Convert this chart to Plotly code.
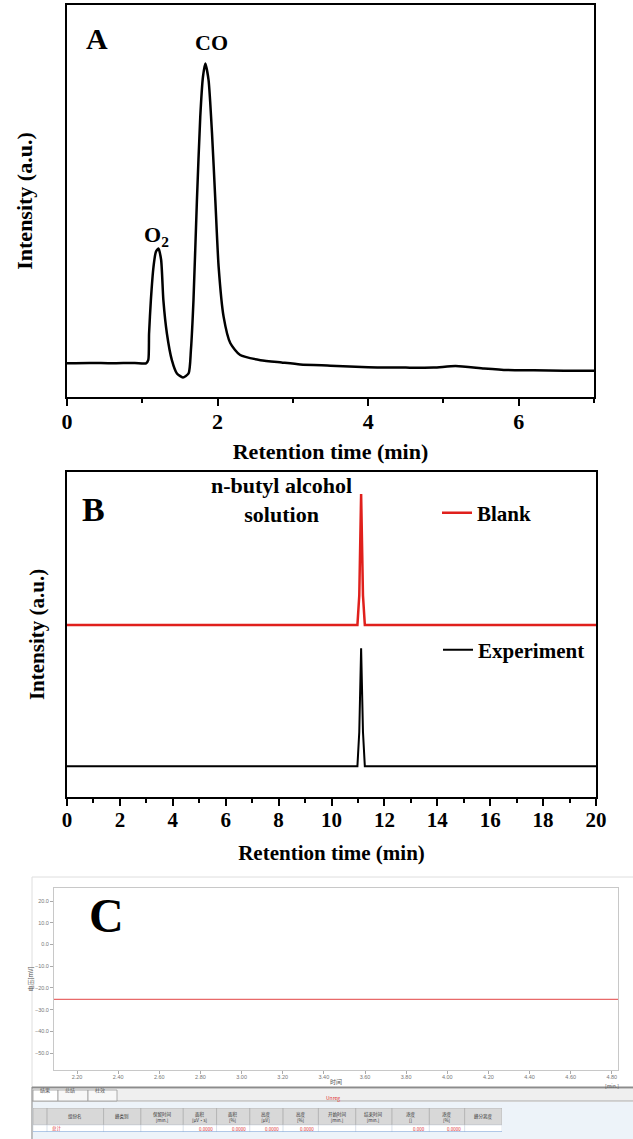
import plotly.graph_objects as go
from itertools import accumulate

W, H = 633, 1139
SERIF = "Liberation Serif, Times New Roman, serif"
CJK = "Noto Sans CJK SC, sans-serif"


def px(x):
    return x / W


def py(y):
    return 1 - y / H


# ---------------- Panel A data ----------------
a_time = [0.00, 0.30, 0.60, 0.90, 1.05, 1.08, 1.09, 1.114, 1.149, 1.18, 1.215,
          1.25, 1.28, 1.327, 1.393, 1.46, 1.54, 1.615, 1.646, 1.68, 1.726,
          1.77, 1.806, 1.837, 1.88, 1.926, 1.97, 2.014, 2.08, 2.17, 2.30,
          2.57, 2.85, 3.10, 3.50, 4.00, 4.50, 4.87, 5.16, 5.54, 5.85, 6.20,
          6.60, 7.00]
a_intensity = [8.6, 8.7, 8.6, 8.7, 8.6, 9.5, 16.2, 24.7, 33.2, 37.0, 37.9,
               35.0, 24.7, 16.2, 9.4, 6.0, 5.0, 6.0, 12.0, 24.7, 50.3,
               71.5, 81.7, 85.1, 80.9, 67.3, 50.3, 33.2, 20.5, 13.7, 10.7,
               9.4, 8.8, 8.3, 8.0, 7.6, 7.5, 7.5, 7.9, 7.3, 6.9, 6.8,
               6.7, 6.7]
a_ticks = [0, 2, 4, 6]

# ---------------- Panel B data ----------------
b_time = [0, 5, 10, 10.98, 11.05, 11.12, 11.19, 11.26, 15, 20]
b_blank = [52.9, 52.9, 52.9, 52.9, 62.0, 93.2, 62.0, 52.9, 52.9, 52.9]
b_experiment = [9.5, 9.5, 9.5, 9.5, 20.0, 45.8, 20.0, 9.5, 9.5, 9.5]
b_ticks = list(range(0, 21, 2))

# ---------------- Panel C data ----------------
c_time = [2.088, 4.83]
c_voltage = [-25.3, -25.3]
c_xticks = [2.2, 2.4, 2.6, 2.8, 3.0, 3.2, 3.4, 3.6, 3.8, 4.0, 4.2, 4.4, 4.6, 4.8]
c_yticks = [20, 10, 0, -10, -20, -30, -40, -50]

table_header = ["", "组份名", "峰类别", "保留时间<br>[min.]", "面积<br>[μV·s]",
                "面积<br>[%]", "高度<br>[μV]", "高度<br>[%]", "开始时间<br>[min.]",
                "结束时间<br>[min.]", "浓度<br>[]", "浓度<br>[%]", "峰分离度"]
table_row = ["", "总计", "", "", "0.0000", "0.0000", "0.0000", "0.0000",
             "", "", "0.000", "0.0000", ""]
table_colwidth = [14, 56, 37, 42, 33, 33, 33, 35, 37, 36, 37, 35, 37]
table_align = ["center", "left", "center", "center", "right", "right", "right",
               "right", "center", "center", "right", "right", "center"]
tab_labels = ["结果", "总结", "柱效"]
tab_widths = [25, 30, 29]

fig = go.Figure()

fig.add_trace(go.Scatter(x=a_time, y=a_intensity, mode="lines",
                         line=dict(color="black", width=2.5, shape="spline",
                                   smoothing=0.6),
                         xaxis="x", yaxis="y", showlegend=False))

fig.add_trace(go.Scatter(x=b_time, y=b_blank, mode="lines", name="Blank",
                         line=dict(color="#e0201c", width=2.5),
                         xaxis="x2", yaxis="y2", legend="legend"))
fig.add_trace(go.Scatter(x=b_time, y=b_experiment, mode="lines", name="Experiment",
                         line=dict(color="black", width=2),
                         xaxis="x2", yaxis="y2", legend="legend2"))

fig.add_trace(go.Scatter(x=c_time, y=c_voltage, mode="lines",
                         line=dict(color="#e86a6a", width=1.2),
                         xaxis="x3", yaxis="y3", showlegend=False))

bold_tick = dict(family=SERIF, size=22, color="black", weight="bold")
title_font = dict(family=SERIF, size=22, color="black", weight="bold")
minor = dict(dtick=1, tick0=0, ticks="outside", ticklen=4, tickwidth=2,
             tickcolor="black", showgrid=False)
c_tickfont = dict(family="Liberation Sans, Arial", size=5.5, color="#777777")

# table geometry (columns in table units, rows: header 7..24, data row 0..7)
edges = [0] + list(accumulate(table_colwidth))
total_w = edges[-1]
ROW_TOP, HEAD_TOP = 7, 24

fig.update_layout(
    width=W, height=H, autosize=False,
    margin=dict(l=0, r=0, t=0, b=0, autoexpand=False),
    paper_bgcolor="white", plot_bgcolor="white",
    xaxis=dict(domain=[px(67), px(594)], range=[0, 7], anchor="y", automargin=False,
               showline=True, linecolor="black", linewidth=2, mirror=True,
               ticks="outside", ticklen=7, tickwidth=2, tickcolor="black",
               tickvals=a_ticks, tickfont=bold_tick, showgrid=False,
               zeroline=False, minor=minor, ticklabelstandoff=-3,
               title=dict(text="Retention time (min)", font=title_font, standoff=10)),
    yaxis=dict(domain=[py(397), py(5)], range=[0, 100], anchor="x", automargin=False,
               showline=True, linecolor="black", linewidth=2, mirror=True,
               ticks="", showticklabels=False, showgrid=False, zeroline=False,
               title=dict(text="Intensity (a.u.)", font=title_font, standoff=26)),
    xaxis2=dict(domain=[px(67), px(596)], range=[0, 20], anchor="y2", automargin=False,
                showline=True, linecolor="black", linewidth=2, mirror=True,
                ticks="outside", ticklen=7, tickwidth=2, tickcolor="black",
                tickvals=b_ticks, tickfont=dict(bold_tick, size=21), showgrid=False,
                zeroline=False, minor=minor, ticklabelstandoff=-4,
                title=dict(text="Retention time (min)",
                           font=dict(title_font, size=21), standoff=14)),
    yaxis2=dict(domain=[py(797), py(472)], range=[0, 100], anchor="x2", automargin=False,
                showline=True, linecolor="black", linewidth=2, mirror=True,
                ticks="", showticklabels=False, showgrid=False, zeroline=False,
                title=dict(text="Intensity (a.u.)", font=dict(title_font, size=21),
                           standoff=15)),
    xaxis3=dict(domain=[px(54), px(618)], range=[2.088, 4.83], anchor="y3",
                automargin=False,
                showline=True, linecolor="#c8c8c8", linewidth=1, mirror=True,
                ticks="outside", ticklen=3, tickwidth=1, tickcolor="#aaaaaa",
                tickvals=c_xticks, tickformat=".2f", showgrid=False, zeroline=False,
                tickfont=c_tickfont, ticklabelstandoff=-2,
                title=dict(text="时间", font=dict(family=CJK, size=6, color="#555555"),
                           standoff=1)),
    yaxis3=dict(domain=[py(1070), py(888)], range=[-57.8, 26], anchor="x3",
                automargin=False,
                showline=True, linecolor="#c8c8c8", linewidth=1, mirror=True,
                ticks="outside", ticklen=3, tickwidth=1, tickcolor="#aaaaaa",
                tickvals=c_yticks, tickformat=".1f", showgrid=False, zeroline=False,
                tickfont=c_tickfont,
                title=dict(text="电压[mV]", font=dict(family=CJK, size=6, color="#555555"),
                           standoff=0)),
    # hidden axes that lay out the result table under panel C
    xaxis4=dict(domain=[px(33), px(502)], range=[0, total_w], anchor="y4",
                visible=False, fixedrange=True),
    yaxis4=dict(domain=[py(1132), py(1108)], range=[0, HEAD_TOP], anchor="x4",
                visible=False, fixedrange=True),
    legend=dict(x=px(437), y=py(513), xanchor="left", yanchor="middle",
                bgcolor="rgba(0,0,0,0)", borderwidth=0,
                font=dict(family=SERIF, size=21, color="black", weight="bold")),
    legend2=dict(x=px(438), y=py(650), xanchor="left", yanchor="middle",
                 bgcolor="rgba(0,0,0,0)", borderwidth=0,
                 font=dict(family=SERIF, size=21, color="black", weight="bold")),
)

# ---------------- text labels ----------------
ann = [
    dict(text="A", x=px(97), y=py(39), size=30),
    dict(text="CO", x=px(211), y=py(42), size=22),
    dict(text="O<sub>2</sub>", x=px(156), y=py(236), size=22),
    dict(text="B", x=px(93), y=py(509), size=34),
    dict(text="n-butyl alcohol<br>solution", x=px(281), y=py(500), size=22),
    dict(text="C", x=px(106), y=py(915), size=48),
]
for a in ann:
    fig.add_annotation(text=a["text"], x=a["x"], y=a["y"], xref="paper", yref="paper",
                       xanchor="center", yanchor="middle", showarrow=False,
                       font=dict(family=SERIF, size=a["size"], color="black",
                                 weight="bold"))

small = dict(family=CJK, size=5, color="#555555")
fig.add_annotation(text="[min.]", x=px(620), y=py(1080.5), xref="paper", yref="paper",
                   yanchor="top", showarrow=False, font=small,
                   borderpad=0)
fig.add_annotation(text="Unreg", x=px(333), y=py(1104), xref="paper", yref="paper",
                   showarrow=False, font=dict(small, color="#e03030"))

# ---------------- panel C software frame ----------------
P = dict(xref="paper", yref="paper")
shapes = [
    dict(type="rect", x0=px(32), x1=px(640), y0=py(1139), y1=py(877),
         line=dict(color="#dedede", width=1), fillcolor="rgba(0,0,0,0)",
         layer="below", **P),
    dict(type="rect", x0=px(32), x1=1, y0=py(1101), y1=py(1089),
         line=dict(width=0), fillcolor="#efefef", layer="below", **P),
    dict(type="rect", x0=px(32), x1=1, y0=py(1139), y1=py(1102),
         line=dict(width=0), fillcolor="#edf3f9", layer="below", **P),
    dict(type="line", x0=px(32), x1=1, y0=py(1087.5), y1=py(1087.5),
         line=dict(color="#8c8c8c", width=2), **P),
    dict(type="line", x0=px(32), x1=1, y0=py(1101), y1=py(1101),
         line=dict(color="#a8a8a8", width=1), **P),
    dict(type="line", x0=px(32), x1=px(32), y0=py(1139), y1=py(1087),
         line=dict(color="#8c8c8c", width=1), **P),
]

# tabs
tab_edges = [33] + [33 + s for s in accumulate(tab_widths)]
for i, lbl in enumerate(tab_labels):
    shapes.append(dict(type="rect", x0=px(tab_edges[i]), x1=px(tab_edges[i + 1]),
                       y0=py(1101), y1=py(1090),
                       line=dict(color="#9a9a9a", width=0.8),
                       fillcolor="#ffffff" if i == 0 else "#f7f7f7", **P))
    fig.add_annotation(text=lbl, x=px(tab_edges[i] + 5), y=py(1095.5),
                       xref="paper", yref="paper", xanchor="left",
                       showarrow=False, font=small)

# result table
T = dict(xref="x4", yref="y4")
for i in range(len(table_colwidth)):
    x0, x1 = edges[i], edges[i + 1]
    shapes.append(dict(type="rect", x0=x0, x1=x1, y0=ROW_TOP, y1=HEAD_TOP,
                       line=dict(color="#a8a8a8", width=0.6), fillcolor="#d8d8d8", **T))
    shapes.append(dict(type="rect", x0=x0, x1=x1, y0=0, y1=ROW_TOP,
                       line=dict(color="#d0d8e4", width=0.6), fillcolor="#ffffff", **T))
    if table_header[i]:
        fig.add_annotation(text=table_header[i], x=(x0 + x1) / 2,
                           y=(ROW_TOP + HEAD_TOP) / 2, showarrow=False,
                           font=dict(family=CJK, size=4.5, color="#333333"), **T)
    if table_row[i]:
        al = table_align[i]
        xx = x0 + 3 if al == "left" else (x1 - 2 if al == "right" else (x0 + x1) / 2)
        fig.add_annotation(text=table_row[i], x=xx, y=ROW_TOP / 2, xanchor=al,
                           showarrow=False,
                           font=dict(family=CJK, size=4.5, color="#e03030"), **T)
shapes.append(dict(type="line", x0=0, x1=total_w, y0=0, y1=0,
                   line=dict(color="#6f9cd6", width=1), **T))

fig.update_layout(shapes=shapes)

fig.write_html("out.html", config={"displayModeBar": False},
               post_script="document.body.style.margin='0';"
                           "document.body.style.padding='0';")
